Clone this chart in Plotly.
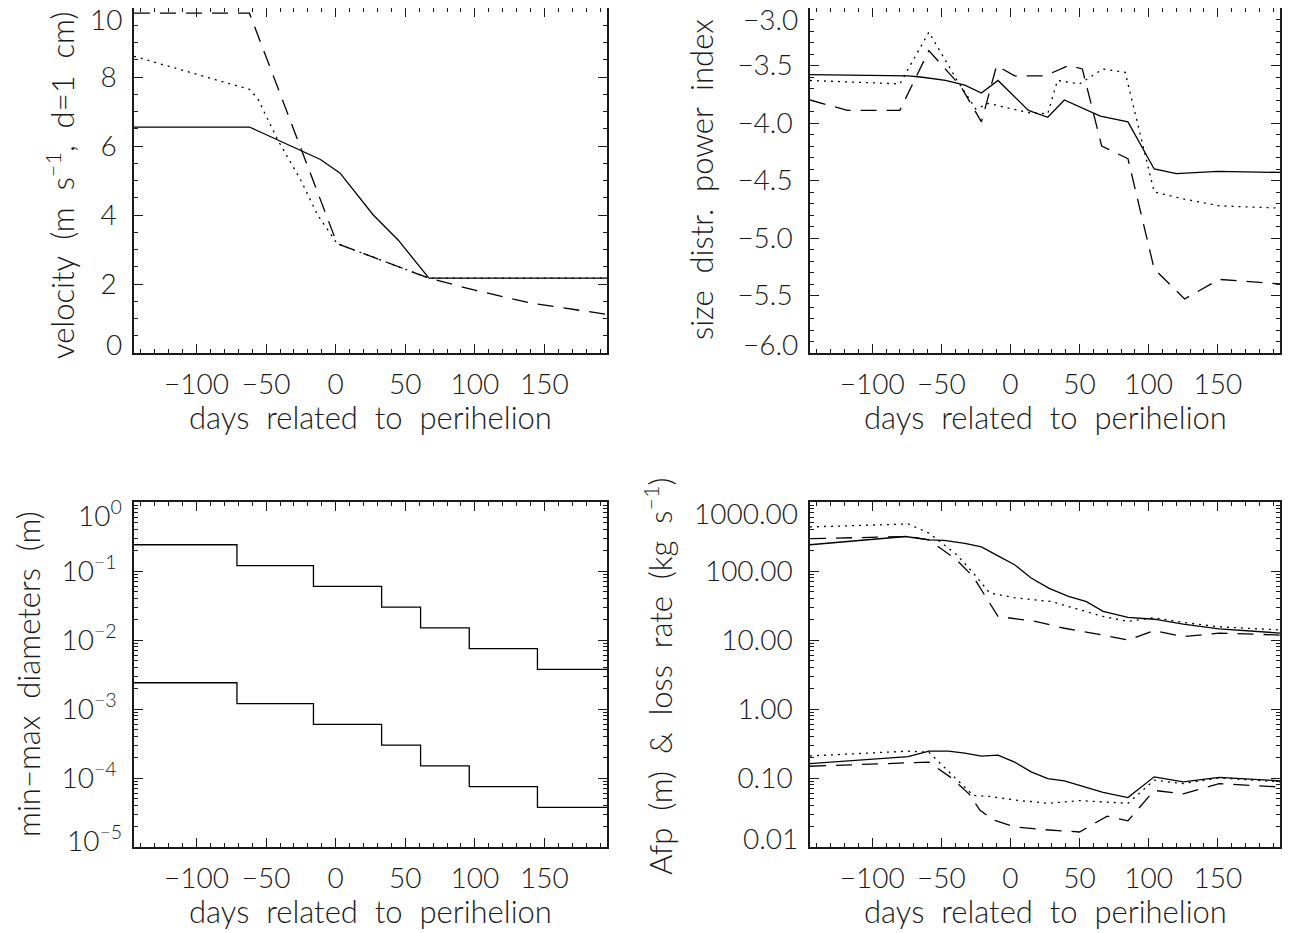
import plotly.graph_objects as go
from plotly.subplots import make_subplots

# ---- panel 1: velocity (m/s, d=1 cm)
vel_days_solid = [-145, -62, -11, 3, 27, 45, 67, 195]
vel_solid = [6.55, 6.55, 5.61, 5.22, 4.0, 3.27, 2.17, 2.17]
vel_days_dashed = [-145, -62, 1, 67, 100, 140, 195]
vel_dashed = [9.85, 9.85, 3.17, 2.17, 1.82, 1.45, 1.12]
vel_days_dotted = [-145, -62, -56, -42, -25, -13, 1, 67, 195]
vel_dotted = [8.6, 7.64, 7.37, 6.2, 5.0, 4.0, 3.17, 2.17, 2.17]
vel_tickvals = [0, 2, 4, 6, 8, 10]

# ---- panel 2: size distribution power index
idx_days_solid = [-145, -74, -65, -47, -33, -21, -9, 13, 27, 39, 65, 85, 104, 120, 150, 195]
idx_solid = [-3.58, -3.59, -3.60, -3.63, -3.67, -3.74, -3.63, -3.89, -3.95, -3.80,
             -3.94, -3.99, -4.40, -4.44, -4.42, -4.43]
idx_days_dotted = [-145, -80, -59, -39, -25, -16, 13, 27, 34, 50, 67, 83, 104, 125, 151, 195]
idx_dotted = [-3.63, -3.66, -3.21, -3.62, -3.88, -3.83, -3.91, -3.92, -3.63, -3.66,
              -3.53, -3.56, -4.60, -4.66, -4.72, -4.74]
idx_days_dashed = [-145, -118, -80, -59, -36, -21, -10, 3, 25, 42, 52, 66, 85, 104, 126, 151, 195]
idx_dashed = [-3.80, -3.89, -3.89, -3.37, -3.68, -3.99, -3.50, -3.59, -3.59, -3.50,
              -3.53, -4.20, -4.31, -5.27, -5.53, -5.36, -5.40]
idx_tickvals = [-6.0, -5.5, -5.0, -4.5, -4.0, -3.5, -3.0]
idx_ticktext = ["−6.0", "−5.5", "−5.0", "−4.5", "−4.0", "−3.5", "−3.0"]

# ---- panel 3: min-max diameters (m), step function
diam_days = [-145, -71, -16, 33, 61, 96, 145, 195]
diam_max = [0.24, 0.12, 0.06, 0.03, 0.015, 0.0075, 0.00375, 0.00375]
diam_min = [0.0024, 0.0012, 0.0006, 0.0003, 0.00015, 0.000075, 0.0000375, 0.0000375]
diam_tickvals = [1e-5, 1e-4, 1e-3, 1e-2, 1e-1, 1]
diam_ticktext = ["10<sup>−5</sup>", "10<sup>−4</sup>", "10<sup>−3</sup>",
                 "10<sup>−2</sup>", "10<sup>−1</sup>", "10<sup>0</sup>"]

# ---- panel 4: loss rate (kg/s) and Afp (m)
loss_days_solid = [-145, -76, -59, -48, -33, -21, -9, 3, 15, 28, 42, 55, 67, 85, 104, 125, 151, 195]
loss_solid = [240, 316, 283, 277, 252, 223, 166, 123, 79, 56, 43, 36, 26, 21.3, 20, 17, 14.5, 12.6]
loss_days_dotted = [-145, -74, -59, -39, -27, -15, 3, 30, 50, 67, 85, 104, 125, 151, 195]
loss_dotted = [435, 480, 355, 173, 94, 48, 41, 36, 27.5, 22, 18.6, 21, 18, 15.5, 14]
loss_days_dashed = [-145, -74, -59, -39, -27, -15, -9, 18, 39, 59, 85, 104, 125, 151, 195]
loss_dashed = [294, 316, 283, 145, 83, 34, 22, 18.6, 14.8, 12.6, 10, 13.7, 11.2, 12.6, 11.8]

afp_days_solid = [-145, -74, -59, -45, -33, -21, -9, 3, 15, 27, 39, 55, 67, 85, 104, 125, 151, 195]
afp_solid = [0.162, 0.204, 0.245, 0.245, 0.23, 0.208, 0.215, 0.17, 0.123, 0.098, 0.091,
             0.072, 0.062, 0.052, 0.104, 0.088, 0.102, 0.091]
afp_days_dotted = [-145, -74, -59, -42, -27, -15, 3, 27, 50, 85, 104, 125, 151, 195]
afp_dotted = [0.209, 0.245, 0.236, 0.11, 0.056, 0.054, 0.048, 0.043, 0.047, 0.043,
              0.093, 0.083, 0.1, 0.088]
afp_days_dashed = [-145, -74, -59, -42, -30, -22, -12, 3, 25, 50, 70, 85, 104, 125, 151, 195]
afp_dashed = [0.148, 0.168, 0.17, 0.098, 0.059, 0.034, 0.0245, 0.0195, 0.0178, 0.0165,
              0.028, 0.024, 0.066, 0.059, 0.083, 0.074]
loss_tickvals = [0.01, 0.1, 1, 10, 100, 1000]
loss_ticktext = ["0.01", "0.10", "1.00", "10.00", "100.00", "1000.00"]

FONT = "Lato"
INK = "#1a1a1a"
TICKFONT = dict(family=FONT, size=28, color=INK, weight=300)
TITLEFONT = dict(family=FONT, size=31, color=INK, weight=300)
SOLID = dict(color="black", width=1.3)
DOTTED = dict(color="black", width=1.3, dash="2px,5px")
DASHED = dict(color="black", width=1.3, dash="16px,10px")

fig = make_subplots(rows=2, cols=2)


def add(row, col, x, y, line, shape="linear"):
    fig.add_trace(go.Scatter(x=x, y=y, mode="lines", line=dict(line, shape=shape),
                             hoverinfo="skip"), row=row, col=col)


add(1, 1, vel_days_solid, vel_solid, SOLID)
add(1, 1, vel_days_dotted, vel_dotted, DOTTED)
add(1, 1, vel_days_dashed, vel_dashed, DASHED)

add(1, 2, idx_days_solid, idx_solid, SOLID)
add(1, 2, idx_days_dotted, idx_dotted, DOTTED)
add(1, 2, idx_days_dashed, idx_dashed, DASHED)

add(2, 1, diam_days, diam_max, SOLID, "hv")
add(2, 1, diam_days, diam_min, SOLID, "hv")

add(2, 2, loss_days_solid, loss_solid, SOLID)
add(2, 2, loss_days_dotted, loss_dotted, DOTTED)
add(2, 2, loss_days_dashed, loss_dashed, DASHED)
add(2, 2, afp_days_solid, afp_solid, SOLID)
add(2, 2, afp_days_dotted, afp_dotted, DOTTED)
add(2, 2, afp_days_dashed, afp_dashed, DASHED)

# the page body has an 8px margin, so the figure starts at (8, 8) on screen
OFF = 8
W, H = 1290 - OFF, 933 - OFF


def px(x):
    return (x - OFF) / W


def py(y):
    return 1 - (y - OFF) / H


left_dom = [px(134), px(607)]
right_dom = [px(810), px(1280)]
top_dom = [py(353), py(8)]
bot_dom = [py(847), py(502)]

axis_style = dict(
    showline=True, linecolor=INK, linewidth=1.5, mirror="allticks",
    ticks="inside", ticklen=9, tickwidth=1.2, tickcolor=INK,
    showgrid=False, zeroline=False, automargin=False,
    tickfont=TICKFONT, ticklabelstandoff=10,
)

for r in (1, 2):
    for c in (1, 2):
        fig.update_xaxes(axis_style, row=r, col=c, range=[-145, 195],
                         tick0=0, dtick=50, ticklabelstandoff=6,
                         minor=dict(ticks="inside", ticklen=4, tickcolor=INK, dtick=10),
                         domain=left_dom if c == 1 else right_dom)


# the labels at both ends of each y axis sit a little inside the frame,
# so they are left blank on the axis and drawn as annotations instead
def ytext(texts):
    return [""] + list(texts[1:-1]) + [""]


fig.update_yaxes(axis_style, row=1, col=1, range=[0, 10], domain=top_dom,
                 tickvals=vel_tickvals,
                 ticktext=ytext([str(v) for v in vel_tickvals]),
                 minor=dict(ticks="inside", ticklen=4, tickcolor=INK, dtick=0.5))
fig.update_yaxes(axis_style, row=1, col=2, range=[-6, -3], domain=top_dom,
                 tickvals=idx_tickvals, ticktext=ytext(idx_ticktext),
                 minor=dict(ticks="inside", ticklen=4, tickcolor=INK, dtick=0.1))
fig.update_yaxes(axis_style, row=2, col=1, type="log", range=[-5, 0], domain=bot_dom,
                 tickvals=diam_tickvals, ticktext=ytext(diam_ticktext),
                 minor=dict(ticks="inside", ticklen=4, tickcolor=INK, dtick="D1"))
fig.update_yaxes(axis_style, row=2, col=2, type="log", range=[-2, 3], domain=bot_dom,
                 tickvals=loss_tickvals, ticktext=ytext(loss_ticktext),
                 minor=dict(ticks="inside", ticklen=4, tickcolor=INK, dtick="D1"))

end_labels = [
    ("x", "y", 0, "0", 9), ("x", "y", 10, "10", -11),
    ("x2", "y2", -6, idx_ticktext[0], 9), ("x2", "y2", -3, idx_ticktext[-1], -11),
    ("x3", "y3", -5, diam_ticktext[0], 9), ("x3", "y3", 0, diam_ticktext[-1], -11),
    ("x4", "y4", -2, loss_ticktext[0], 9), ("x4", "y4", 3, loss_ticktext[-1], -11),
]
for xr, yr, y, text, shift in end_labels:
    fig.add_annotation(x=0, y=y, xref=xr + " domain", yref=yr, text=text,
                       showarrow=False, xanchor="right", yanchor="middle",
                       xshift=-10, yshift=shift, font=TICKFONT)


def wide(text):
    # the original lettering has very wide word gaps
    return text.replace(" ", "&nbsp;&nbsp;")


# axis titles
xtitle = wide("days related to perihelion")
titles = [
    (sum(left_dom) / 2, py(417), xtitle, 0),
    (sum(right_dom) / 2, py(417), xtitle, 0),
    (sum(left_dom) / 2, py(911), xtitle, 0),
    (sum(right_dom) / 2, py(911), xtitle, 0),
    (px(60), py(186), wide("velocity (m s<sup>−1</sup>, d=1 cm)"), -90),
    (px(701), py(180), wide("size distr. power index"), -90),
    (px(28), py(674), wide("min−max diameters (m)"), -90),
    (px(658), py(676), wide("Afp (m) & loss rate (kg s<sup>−1</sup>)"), -90),
]
for x, y, text, angle in titles:
    fig.add_annotation(x=x, y=y, xref="paper", yref="paper", text=text,
                       textangle=angle, showarrow=False, xanchor="center",
                       yanchor="middle", font=TITLEFONT)

fig.update_layout(
    width=W, height=H,
    margin=dict(l=0, r=0, t=0, b=0),
    paper_bgcolor="white", plot_bgcolor="white",
    showlegend=False,
)

fig.write_html("out.html")
